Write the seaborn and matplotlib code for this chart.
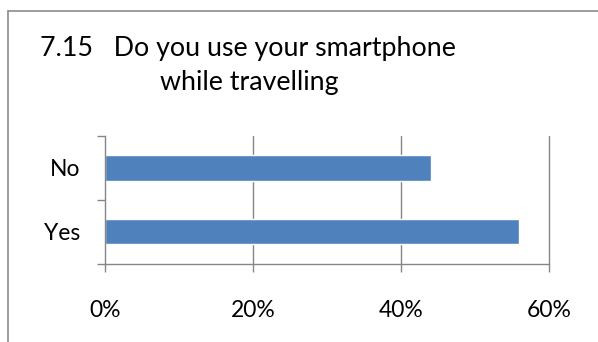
import matplotlib
matplotlib.use("Agg")
import matplotlib.pyplot as plt
from matplotlib.lines import Line2D
from matplotlib.ticker import FuncFormatter
import seaborn as sns
import pandas as pd

categories = ["No", "Yes"]
values = [44, 56]
x_ticks = [0, 20, 40, 60]
title_line1 = "7.15   Do you use your smartphone"
title_line2 = "while travelling"

sns.set_theme(style="white")
plt.rcParams["font.family"] = ["Lato", "DejaVu Sans"]

W, H = 598, 342
fig = plt.figure(figsize=(W / 100, H / 100), dpi=100)
fig.patch.set_facecolor("white")

# chart border (left and top edges visible)
border_c = "#8c8c8c"
fig.add_artist(Line2D([8 / W, 8 / W], [0, 1 - 11 / H], transform=fig.transFigure,
                      color=border_c, lw=1.2))
fig.add_artist(Line2D([8 / W, 1], [1 - 11 / H, 1 - 11 / H], transform=fig.transFigure,
                      color=border_c, lw=1.2))

left, right, top, bottom = 105, 549, 136, 263.5
ax = fig.add_axes([left / W, 1 - bottom / H, (right - left) / W, (bottom - top) / H])

df = pd.DataFrame({"cat": categories, "val": values})
sns.barplot(data=df, x="val", y="cat", order=categories, color="#4F81BD",
            saturation=1, width=0.4, ax=ax)

ax.set_xlim(0, 60)
ax.set_ylim(1.5, -0.5)
ax.set_xlabel("")
ax.set_ylabel("")

grid_c = "#868686"
ax.set_xticks(x_ticks)
ax.xaxis.set_major_formatter(FuncFormatter(lambda v, p: f"{int(v)}%"))
for xv in x_ticks[1:]:
    ax.axvline(xv, color=grid_c, lw=1.0, zorder=0, clip_on=False)

ax.set_yticks([-0.5, 0.5, 1.5])
ax.set_yticklabels([])
ax.set_yticks([0, 1], minor=True)
ax.set_yticklabels(categories, minor=True)

for s in ["top", "right"]:
    ax.spines[s].set_visible(False)
for s in ["left", "bottom"]:
    ax.spines[s].set_visible(True)
    ax.spines[s].set_color(grid_c)
    ax.spines[s].set_linewidth(1.0)

ax.tick_params(axis="x", which="major", direction="out", length=6, width=1.0,
               color=grid_c, pad=20, labelsize=16.5, labelcolor="black", bottom=True)
ax.tick_params(axis="y", which="major", direction="out", length=6, width=1.0,
               color=grid_c, left=True)
ax.tick_params(axis="y", which="minor", length=0, pad=18, labelsize=16.5,
               labelcolor="black", left=True)

fig.text(40 / W, 1 - 56 / H, title_line1, fontsize=19.3, color="black",
         ha="left", va="baseline")
fig.text(160 / W, 1 - 90 / H, title_line2, fontsize=19.3, color="black",
         ha="left", va="baseline")

fig.savefig("out.png", dpi=100, facecolor="white")
